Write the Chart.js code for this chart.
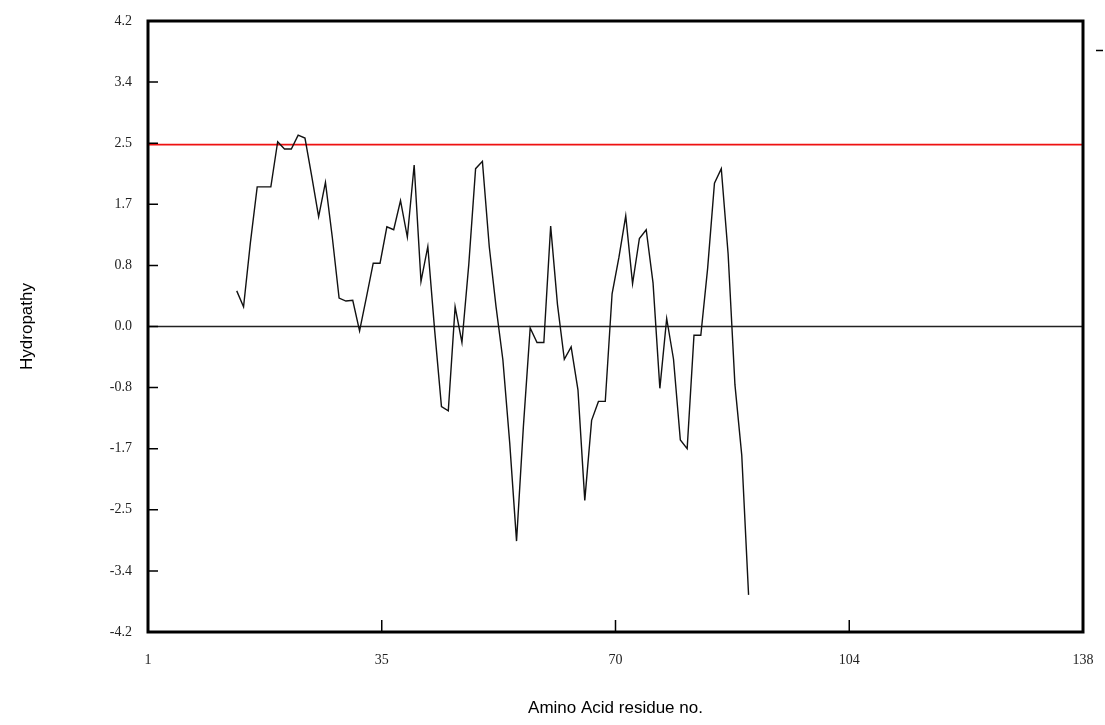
<!DOCTYPE html>
<html>
<head>
<meta charset="utf-8">
<script src="https://cdn.jsdelivr.net/npm/chart.js@4.4.1/dist/chart.umd.min.js"></script>
<style>
  html, body { margin: 0; padding: 0; background: #fff; }
  #wrap { width: 1105px; height: 725px; }
</style>
</head>
<body>
<div id="wrap"><canvas id="c" width="1105" height="725"></canvas></div>
<script>
// Residue numbers (x) and hydropathy values (y)
const residues = [14,15,16,17,18,19,20,21,22,23,24,25,26,27,28,29,30,31,32,33,34,35,36,37,38,39,40,41,42,43,44,45,46,47,48,49,50,51,52,53,54,55,56,57,58,59,60,61,62,63,64,65,66,67,68,69,70,71,72,73,74,75,76,77,78,79,80,81,82,83,84,85,86,87,88,89];
const hydropathy = [0.49,0.27,1.15,1.92,1.92,1.92,2.54,2.44,2.44,2.63,2.59,2.06,1.51,1.98,1.23,0.39,0.35,0.36,-0.06,0.40,0.87,0.87,1.37,1.33,1.73,1.23,2.22,0.62,1.10,-0.05,-1.10,-1.16,0.27,-0.22,0.85,2.17,2.27,1.10,0.27,-0.46,-1.60,-2.95,-1.38,-0.02,-0.22,-0.22,1.38,0.30,-0.45,-0.28,-0.87,-2.39,-1.29,-1.03,-1.03,0.45,0.95,1.52,0.59,1.21,1.33,0.60,-0.85,0.11,-0.45,-1.56,-1.68,-0.12,-0.12,0.80,1.97,2.17,1.00,-0.80,-1.77,-3.69];
const thresholdValue = 2.5;
const baselineValue = 0.0;
const xRange = [1, 138];
const yRange = [-4.2, 4.2];
const xTickValues = [1, 35.25, 69.5, 103.75, 138];
const xTickLabels = ['1', '35', '70', '104', '138'];
const yTickValues = [-4.2, -3.36, -2.52, -1.68, -0.84, 0, 0.84, 1.68, 2.52, 3.36, 4.2];
const yTickLabels = ['-4.2', '-3.4', '-2.5', '-1.7', '-0.8', '0.0', '0.8', '1.7', '2.5', '3.4', '4.2'];

const seriesPoints = residues.map((r, i) => ({ x: r, y: hydropathy[i] }));
const thresholdPoints = xRange.map(v => ({ x: v, y: thresholdValue }));
const baselinePoints = xRange.map(v => ({ x: v, y: baselineValue }));

const framePlugin = {
  id: 'frame',
  afterDatasetsDraw(chart) {
    const { ctx, chartArea: a, scales: { x, y } } = chart;
    ctx.save();
    ctx.strokeStyle = '#000';
    ctx.lineWidth = 1.5;
    ctx.beginPath();
    y.ticks.forEach(t => {
      const py = y.getPixelForValue(t.value);
      ctx.moveTo(a.left, py); ctx.lineTo(a.left + 10, py);
    });
    x.ticks.forEach(t => {
      const px = x.getPixelForValue(t.value);
      ctx.moveTo(px, a.bottom); ctx.lineTo(px, a.bottom - 12);
    });
    ctx.stroke();
    ctx.lineWidth = 3;
    ctx.strokeRect(a.left, a.top, a.right - a.left, a.bottom - a.top);
    // small legend dash at top right
    ctx.lineWidth = 1.5;
    ctx.beginPath();
    ctx.moveTo(a.right + 13, a.top + 29.5);
    ctx.lineTo(a.right + 20, a.top + 29.5);
    ctx.stroke();
    ctx.restore();
  }
};

const tickFont = { family: "'Liberation Serif', 'Times New Roman', serif", size: 14 };
const titleFont = { family: "'Liberation Sans', Arial, sans-serif", size: 17 };

new Chart(document.getElementById('c'), {
  type: 'line',
  data: {
    datasets: [
      { data: seriesPoints, borderColor: '#111', borderWidth: 1.4, pointRadius: 0, tension: 0, fill: false },
      { data: thresholdPoints, borderColor: '#ee1111', borderWidth: 1.6, pointRadius: 0, fill: false },
      { data: baselinePoints, borderColor: '#222', borderWidth: 1.6, pointRadius: 0, fill: false }
    ]
  },
  options: {
    responsive: false,
    animation: false,
    events: [],
    layout: { padding: { top: 21, right: 22, left: 0, bottom: 0 } },
    plugins: { legend: { display: false }, tooltip: { enabled: false } },
    scales: {
      x: {
        type: 'linear',
        min: xRange[0], max: xRange[1],
        grid: { display: false, drawTicks: false },
        border: { display: false },
        afterBuildTicks(scale) { scale.ticks = xTickValues.map(v => ({ value: v })); },
        afterFit(scale) { scale.height = 93; scale.paddingLeft = 0; scale.paddingRight = 0; },
        ticks: {
          autoSkip: false, maxRotation: 0, padding: 20,
          color: '#222', font: tickFont,
          callback: (v, i) => xTickLabels[i]
        },
        title: { display: true, text: 'Amino Acid residue no.', color: '#000', font: titleFont, padding: { top: 0, bottom: 6 } }
      },
      y: {
        type: 'linear',
        min: yRange[0], max: yRange[1],
        grid: { display: false, drawTicks: false },
        border: { display: false },
        afterBuildTicks(scale) { scale.ticks = yTickValues.map(v => ({ value: v })); },
        afterFit(scale) { scale.width = 148; scale.paddingTop = 0; scale.paddingBottom = 0; },
        ticks: {
          autoSkip: false, padding: 16,
          color: '#222', font: tickFont,
          callback: (v, i) => yTickLabels[i]
        },
        title: { display: true, text: 'Hydropathy', color: '#000', font: titleFont, padding: { top: 17, bottom: 0 } }
      }
    }
  },
  plugins: [framePlugin]
});
</script>
</body>
</html>
